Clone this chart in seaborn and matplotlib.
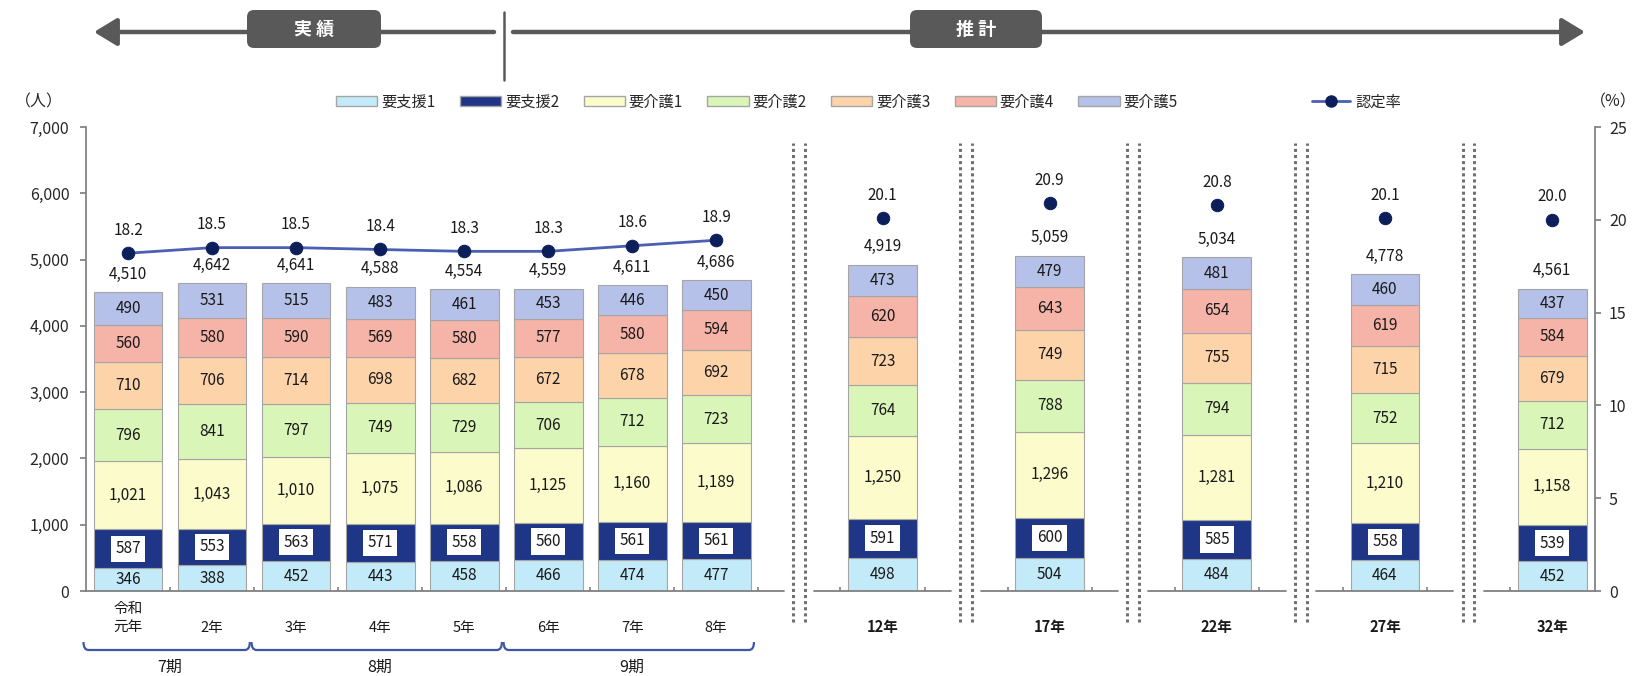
import numpy as np
import pandas as pd
import seaborn as sns
import matplotlib.pyplot as plt
from matplotlib.patches import FancyBboxPatch, Patch, PathPatch
from matplotlib.lines import Line2D
from matplotlib.path import Path
from matplotlib.transforms import IdentityTransform

# 要介護認定者数の実績と推計

years = ["令和\n元年", "2年", "3年", "4年", "5年", "6年", "7年", "8年",
         "12年", "17年", "22年", "27年", "32年"]
levels = ["要支援1", "要支援2", "要介護1", "要介護2", "要介護3", "要介護4", "要介護5"]

shien1 = [346, 388, 452, 443, 458, 466, 474, 477, 498, 504, 484, 464, 452]
shien2 = [587, 553, 563, 571, 558, 560, 561, 561, 591, 600, 585, 558, 539]
kaigo1 = [1021, 1043, 1010, 1075, 1086, 1125, 1160, 1189, 1250, 1296, 1281, 1210, 1158]
kaigo2 = [796, 841, 797, 749, 729, 706, 712, 723, 764, 788, 794, 752, 712]
kaigo3 = [710, 706, 714, 698, 682, 672, 678, 692, 723, 749, 755, 715, 679]
kaigo4 = [560, 580, 590, 569, 580, 577, 580, 594, 620, 643, 654, 619, 584]
kaigo5 = [490, 531, 515, 483, 461, 453, 446, 450, 473, 479, 481, 460, 437]
totals = [4510, 4642, 4641, 4588, 4554, 4559, 4611, 4686, 4919, 5059, 5034, 4778, 4561]
rate = [18.2, 18.5, 18.5, 18.4, 18.3, 18.3, 18.6, 18.9, 20.1, 20.9, 20.8, 20.1, 20.0]

periods = ["7期", "8期", "9期"]
period_span = [(0, 1), (2, 4), (5, 7)]

n_actual = 8

# layout (bar slots; projections sit further apart)
xpos = np.array([0, 1, 2, 3, 4, 5, 6, 7, 8.98, 10.97, 12.96, 14.96, 16.95])
colors = ["#c3eaf8", "#1f3585", "#fbfbcb", "#daf5b8", "#fdd3a9", "#f6b3a8", "#b6c1ea"]

df = pd.DataFrame({"要支援1": shien1, "要支援2": shien2, "要介護1": kaigo1, "要介護2": kaigo2,
                   "要介護3": kaigo3, "要介護4": kaigo4, "要介護5": kaigo5}, index=years)

sns.set_theme(style="white")
plt.rcParams['font.family'] = ['Noto Sans CJK JP', 'DejaVu Sans']

W, H = 1639, 676
fig = plt.figure(figsize=(W / 100, H / 100), dpi=100)
ax = fig.add_axes([86 / W, 1 - 591 / H, (1595 - 86) / W, (591 - 127) / H])
ax2 = ax.twinx()

# stacked bars
bottom = np.zeros(len(years))
for lev, col in zip(levels, colors):
    vals = df[lev].values
    ax.bar(xpos, vals, bottom=bottom, width=0.82, color=col, edgecolor="#a5a5a5", linewidth=0.8, zorder=2)
    for x, b, v in zip(xpos, bottom, vals):
        kw = {}
        if lev == "要支援2":
            kw = dict(bbox=dict(boxstyle="square,pad=0.3", fc="white", ec="none"))
        ax.text(x, b + v / 2, f"{v:,}", ha="center", va="center", fontsize=11, color="#1a1a1a",
                zorder=4, **kw)
    bottom += vals

for x, t in zip(xpos, totals):
    ax.annotate(f"{t:,}", (x, t), xytext=(0, 13), textcoords="offset points",
                ha="center", va="center", fontsize=11, color="#1a1a1a")

ax.set_xlim(-0.5, 17.46)
ax.set_ylim(0, 7000)
ax2.set_ylim(0, 25)

# 認定率
sns.lineplot(x=xpos[:n_actual], y=rate[:n_actual], ax=ax2, color="#4b5fb3", lw=2,
             marker="o", markersize=9, markerfacecolor="#0c1f5b", markeredgecolor="#0c1f5b", zorder=5)
sns.scatterplot(x=xpos[n_actual:], y=rate[n_actual:], ax=ax2, color="#0c1f5b", s=80,
                edgecolor="#0c1f5b", zorder=5)
for x, r in zip(xpos, rate):
    ax2.annotate(f"{r:.1f}", (x, r), xytext=(0, 16.5), textcoords="offset points",
                 ha="center", va="center", fontsize=11, color="#1a1a1a")

# axes styling
for a in (ax, ax2):
    a.spines["top"].set_visible(False)
    a.spines["bottom"].set_visible(False)
    a.spines["left"].set_visible(False)
    a.spines["right"].set_visible(False)
    a.grid(False)
ax.spines["left"].set_visible(True)
ax.spines["left"].set_color("#808080")
ax2.spines["right"].set_visible(True)
ax2.spines["right"].set_color("#808080")

ax.set_yticks(range(0, 7001, 1000))
ax.set_yticklabels([f"{v:,}" for v in range(0, 7001, 1000)])
ax.tick_params(axis="y", left=True, length=4, color="#808080", pad=8, labelsize=11.5, labelcolor="#262626")
ax2.set_yticks(range(0, 26, 5))
ax2.tick_params(axis="y", right=True, length=4, color="#808080", pad=6, labelsize=11.5, labelcolor="#262626")
ax.set_xticks([])
ax.set_ylabel("")
ax2.set_ylabel("")

# broken baseline with double dotted separators
seps = (xpos[n_actual - 1:-1] + xpos[n_actual:]) / 2
edges = [-0.5] + [v for s in seps for v in (s - 0.18, s + 0.18)] + [17.46]
for x0, x1 in zip(edges[::2], edges[1::2]):
    ax.plot([x0, x1], [0, 0], color="#808080", lw=1.3, clip_on=False, zorder=3)
for s in seps:
    for dx in (-0.07, 0.07):
        ax.plot([s + dx, s + dx], [-470, 6760], color="#707070", lw=2.2, ls=(0, (1, 1)),
                clip_on=False, zorder=1)
tick_x = list(np.arange(0.5, n_actual, 1.0)) + [p + d for p in xpos[n_actual:] for d in (-0.5, 0.5)][:-1]
ax.vlines(tick_x, 0, 60, color="#808080", lw=1.2, zorder=3)

# x labels
for i, (x, lab) in enumerate(zip(xpos, years)):
    ax.annotate(lab, (x, 0), xytext=(0, -31.5), textcoords="offset points", ha="center", va="bottom",
                fontsize=10.5, color="#1a1a1a", fontweight="bold" if i >= n_actual else "normal",
                linespacing=1.4, annotation_clip=False)

# period brackets
def bracket(x0, x1, ybot, ytop):
    c = 0.06
    verts = [(x0, ytop), (x0, ybot), (x0 + c, ybot), (x1 - c, ybot), (x1, ybot), (x1, ytop)]
    codes = [Path.MOVETO, Path.CURVE3, Path.CURVE3, Path.LINETO, Path.CURVE3, Path.CURVE3]
    ax.add_patch(PathPatch(Path(verts, codes), fill=False, ec="#3d56a6", lw=1.6, clip_on=False))

for lab, (i0, i1) in zip(periods, period_span):
    bracket(xpos[i0] - 0.53, xpos[i1] + 0.45, -890, -770)
    ax.text((xpos[i0] + xpos[i1]) / 2, -1150, lab, ha="center", va="center", fontsize=11.5, color="#1a1a1a")

# unit labels
fig.text(15 / W, 1 - 102 / H, "（人）", ha="left", va="center", fontsize=11.5, color="#262626")
fig.text(1637 / W, 1 - 102 / H, "（%）", ha="right", va="center", fontsize=11.5, color="#262626")

# legends
handles = [Patch(facecolor=c, edgecolor="#a5a5a5", label=l) for l, c in zip(levels, colors)]
leg1 = fig.legend(handles=handles, loc="center left", bbox_to_anchor=(330 / W, 1 - 102 / H), ncol=7,
                  frameon=False, fontsize=11, handlelength=2.7, handleheight=0.55, handletextpad=0.25,
                  columnspacing=1.6, borderaxespad=0)
line_h = Line2D([], [], color="#4b5fb3", lw=2, marker="o", markersize=8,
                markerfacecolor="#0c1f5b", markeredgecolor="#0c1f5b", label="認定率")
fig.legend(handles=[line_h], loc="center left", bbox_to_anchor=(1306 / W, 1 - 102 / H), frameon=False,
           fontsize=11, handlelength=2.5, handletextpad=0.3, borderaxespad=0)

# header: 実績 / 推計 arrows
ident = IdentityTransform()
def px(x, y):
    return (x, H - y)

arrow_kw = dict(arrowstyle="-|>,head_length=14,head_width=8.5", color="#595959", lw=3.2,
                mutation_scale=1, shrinkA=0, shrinkB=0)
ax.annotate("", xy=px(94, 32), xytext=px(494, 32), xycoords="figure pixels",
            textcoords="figure pixels", arrowprops=arrow_kw, annotation_clip=False)
ax.annotate("", xy=px(1585, 32), xytext=px(513, 32), xycoords="figure pixels",
            textcoords="figure pixels", arrowprops=arrow_kw, annotation_clip=False)
fig.add_artist(Line2D([504, 504], [H - 12, H - 80], color="#595959", lw=1.8, transform=ident))
for x0, x1, lab in [(247, 381, "実 績"), (910, 1042, "推 計")]:
    fig.add_artist(FancyBboxPatch(px(x0, 48), x1 - x0, 38, boxstyle="round,pad=0,rounding_size=7",
                                  fc="#595959", ec="none", transform=ident))
    fig.text((x0 + x1) / 2 / W, 1 - 29 / H, lab, ha="center", va="center", fontsize=13,
             color="white", fontweight="bold")

fig.savefig("out.png", dpi=100, facecolor="white")
